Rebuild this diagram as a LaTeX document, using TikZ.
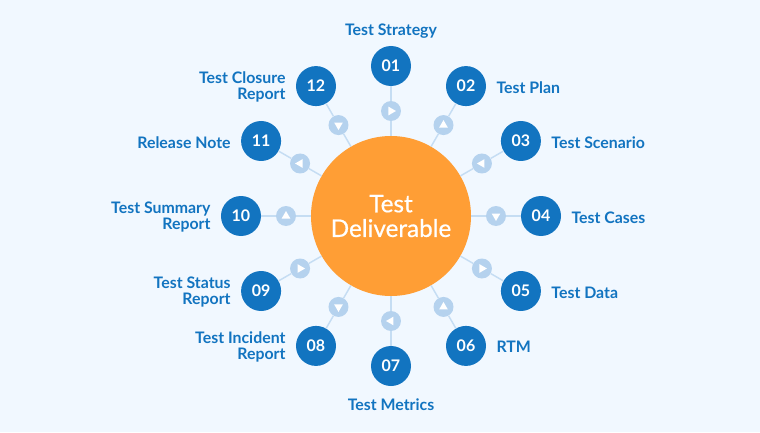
\documentclass[tikz,border=0pt]{standalone}
\usepackage{fontspec}
\setmainfont{Lato}
\newfontfamily\hubfont[FakeBold=0.6]{Lato}
\usepackage{tikz}
\usetikzlibrary{positioning,shapes.geometric}
\definecolor{tdBlue}{RGB}{18,116,192}
\definecolor{tdOrange}{RGB}{255,158,53}
\definecolor{tdPale}{RGB}{181,210,238}
\definecolor{tdSpoke}{RGB}{197,221,243}
\definecolor{tdBack}{RGB}{241,248,255}
\tikzset{
    base/.style={align=center, inner sep=0pt},
    hub/.style={base, circle, fill=tdOrange, text=white, minimum size=120pt,
                font=\hubfont\fontsize{18.2}{18.5}\selectfont},
    numdot/.style={base, circle, fill=tdBlue, text=white, minimum size=30pt,
                   font=\fontsize{12}{14}\selectfont\bfseries},
    tipdot/.style={base, circle, fill=tdPale, minimum size=15pt},
    tiptri/.style={base, regular polygon, regular polygon sides=3, fill=white, minimum size=7.5pt},
    flow/.style={draw=tdSpoke, line width=1.1pt},
    caption/.style={base, text=tdBlue, node distance=7.5pt, yshift=-1pt, font=\fontsize{11.9}{12}\selectfont\bfseries}
}
\begin{document}
\begin{tikzpicture}[x=0.75pt, y=0.75pt]
  % Page
  \fill[tdBack] (-391,-216) rectangle (369,216);

  % Centre
  \node[hub] (Hub) at (0,0) {Test\\Deliverable};

  % Numbered dots
  \node[numdot] (N01) at (90:150) {01};
  \node[numdot] (N02) at (60:150) {02};
  \node[numdot] (N03) at (30:150) {03};
  \node[numdot] (N04) at (0:150) {04};
  \node[numdot] (N05) at (-30:150) {05};
  \node[numdot] (N06) at (-60:150) {06};
  \node[numdot] (N07) at (-90:150) {07};
  \node[numdot] (N08) at (-120:150) {08};
  \node[numdot] (N09) at (-150:150) {09};
  \node[numdot] (N10) at (180:150) {10};
  \node[numdot] (N11) at (150:150) {11};
  \node[numdot] (N12) at (120:150) {12};

  % Small dots on the spokes
  \node[tipdot] (T01) at (90:105) {};
  \node[tipdot] (T02) at (60:105) {};
  \node[tipdot] (T03) at (30:105) {};
  \node[tipdot] (T04) at (0:105) {};
  \node[tipdot] (T05) at (-30:105) {};
  \node[tipdot] (T06) at (-60:105) {};
  \node[tipdot] (T07) at (-90:105) {};
  \node[tipdot] (T08) at (-120:105) {};
  \node[tipdot] (T09) at (-150:105) {};
  \node[tipdot] (T10) at (180:105) {};
  \node[tipdot] (T11) at (150:105) {};
  \node[tipdot] (T12) at (120:105) {};

  % Triangles in the small dots
  \node[tiptri, shape border rotate=-90] (A01) at (T01) {};
  \node[tiptri] (A02) at (T02) {};
  \node[tiptri, shape border rotate=90] (A03) at (T03) {};
  \node[tiptri, shape border rotate=180] (A04) at (T04) {};
  \node[tiptri, shape border rotate=-90] (A05) at (T05) {};
  \node[tiptri] (A06) at (T06) {};
  \node[tiptri, shape border rotate=90] (A07) at (T07) {};
  \node[tiptri, shape border rotate=180] (A08) at (T08) {};
  \node[tiptri, shape border rotate=-90] (A09) at (T09) {};
  \node[tiptri] (A10) at (T10) {};
  \node[tiptri, shape border rotate=90] (A11) at (T11) {};
  \node[tiptri, shape border rotate=180] (A12) at (T12) {};

  % Spokes
  \draw[flow] (Hub) -- (T01) -- (N01);
  \draw[flow] (Hub) -- (T02) -- (N02);
  \draw[flow] (Hub) -- (T03) -- (N03);
  \draw[flow] (Hub) -- (T04) -- (N04);
  \draw[flow] (Hub) -- (T05) -- (N05);
  \draw[flow] (Hub) -- (T06) -- (N06);
  \draw[flow] (Hub) -- (T07) -- (N07);
  \draw[flow] (Hub) -- (T08) -- (N08);
  \draw[flow] (Hub) -- (T09) -- (N09);
  \draw[flow] (Hub) -- (T10) -- (N10);
  \draw[flow] (Hub) -- (T11) -- (N11);
  \draw[flow] (Hub) -- (T12) -- (N12);

  % Captions
  \node[caption, above=6.5pt of N01] (C01) {Test Strategy};
  \node[caption, right=of N02] (C02) {Test Plan};
  \node[caption, right=of N03] (C03) {Test Scenario};
  \node[caption, right=of N04] (C04) {Test Cases};
  \node[caption, right=of N05] (C05) {Test Data};
  \node[caption, right=of N06] (C06) {RTM};
  \node[caption, below=8pt of N07] (C07) {Test Metrics};
  \node[caption, left=of N08, align=right] (C08) {Test Incident\\Report};
  \node[caption, left=of N09, align=right] (C09) {Test Status\\Report};
  \node[caption, left=of N10, align=right] (C10) {Test Summary\\Report};
  \node[caption, left=of N11, align=right] (C11) {Release Note};
  \node[caption, left=of N12, align=right] (C12) {Test Closure\\Report};
\end{tikzpicture}
\end{document}
